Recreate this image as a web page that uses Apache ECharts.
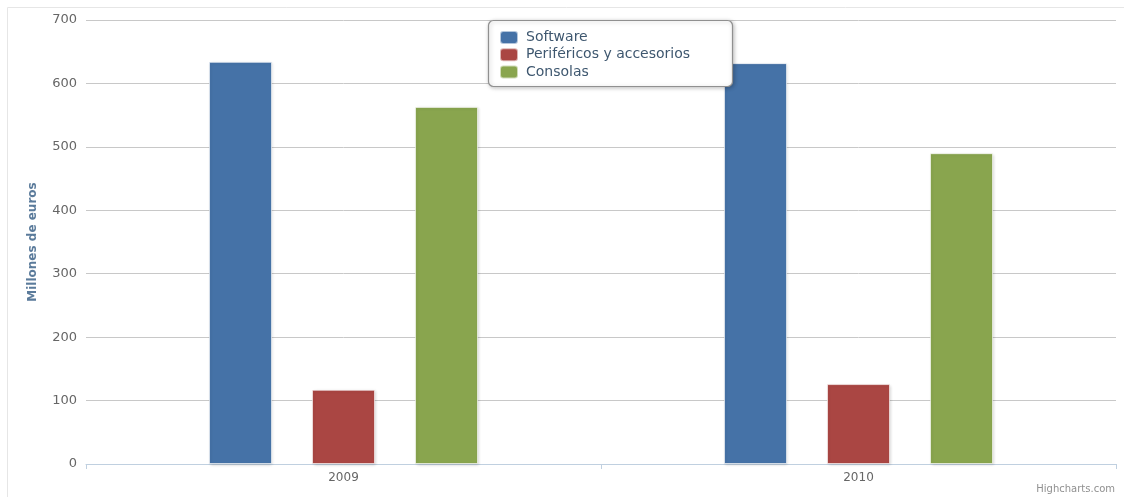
<!DOCTYPE html>
<html><head><meta charset="utf-8">
<script src="https://cdn.jsdelivr.net/npm/echarts@6/dist/echarts.min.js"></script>
<style>html,body{margin:0;padding:0;background:#fff}#c{width:1124px;height:497px}</style>
</head><body><div id="c"></div>
<script>
const categories = ['2009', '2010'];
const seriesNames = ['Software', 'Periféricos y accesorios', 'Consolas'];
const software = [634, 632];
const perifericos = [117, 126];
const consolas = [563, 490];
const yTicks = [0, 100, 200, 300, 400, 500, 600, 700];
const colors = ['#4572A7', '#AA4643', '#89A54E'];

const chart = echarts.init(document.getElementById('c'));
const font = 'DejaVu Sans, Verdana, sans-serif';
const values = [software, perifericos, consolas];
chart.setOption({
  animation: false,
  textStyle: { fontFamily: font },
  graphic: [
    { type: 'rect', z: -10, shape: { x: 7.5, y: 7.5, width: 1130, height: 500 }, style: { fill: 'none', stroke: '#e6e6e6', lineWidth: 1 } },
    { type: 'rect', z: 100, shape: { x: 488.5, y: 20.5, width: 244, height: 66, r: 5 },
      style: { fill: '#fff', stroke: '#909090', lineWidth: 1.2, shadowBlur: 4, shadowColor: 'rgba(0,0,0,0.25)', shadowOffsetX: 1, shadowOffsetY: 1 } },
    { type: 'text', right: 9, bottom: 3, style: { text: 'Highcharts.com', fill: '#909090', font: '10px ' + font } }
  ],
  legend: {
    orient: 'vertical', left: 499, top: 30, z: 200,
    itemWidth: 18, itemHeight: 13, itemGap: 2.2, icon: 'roundRect', padding: 0,
    textStyle: { color: '#3E576F', fontSize: 14, lineHeight: 13, fontFamily: font, padding: [0, 0, 0, 3] },
    data: seriesNames
  },
  grid: { left: 86, right: 8, top: 20, bottom: 33, containLabel: false },
  xAxis: {
    type: 'category', data: categories,
    axisLine: { lineStyle: { color: '#C0D0E0', width: 1 } },
    axisTick: { show: true, length: 5, lineStyle: { color: '#C0D0E0' } },
    axisLabel: { color: '#666', fontSize: 12, margin: 8, fontFamily: font },
    splitLine: { show: false }
  },
  yAxis: {
    type: 'value', min: yTicks[0], max: yTicks[yTicks.length - 1], interval: 100,
    name: 'Millones de euros', nameLocation: 'middle', nameGap: 47,
    nameTextStyle: { color: '#5B7B9B', fontWeight: 'bold', fontSize: 12, fontFamily: font },
    axisLine: { show: false }, axisTick: { show: false },
    axisLabel: { color: '#666', fontSize: 13, margin: 9, fontFamily: font },
    splitLine: { lineStyle: { color: '#C8C8C8', width: 1 } }
  },
  series: seriesNames.map((n, i) => ({
    name: n, type: 'bar', data: values[i], barWidth: 63, barGap: '63.5%',
    itemStyle: { color: colors[i], borderColor: 'rgba(255,255,255,0.6)', borderWidth: 1,
      shadowBlur: 3, shadowColor: 'rgba(0,0,0,0.15)', shadowOffsetX: 1, shadowOffsetY: 1 }
  }))
});
</script></body></html>
